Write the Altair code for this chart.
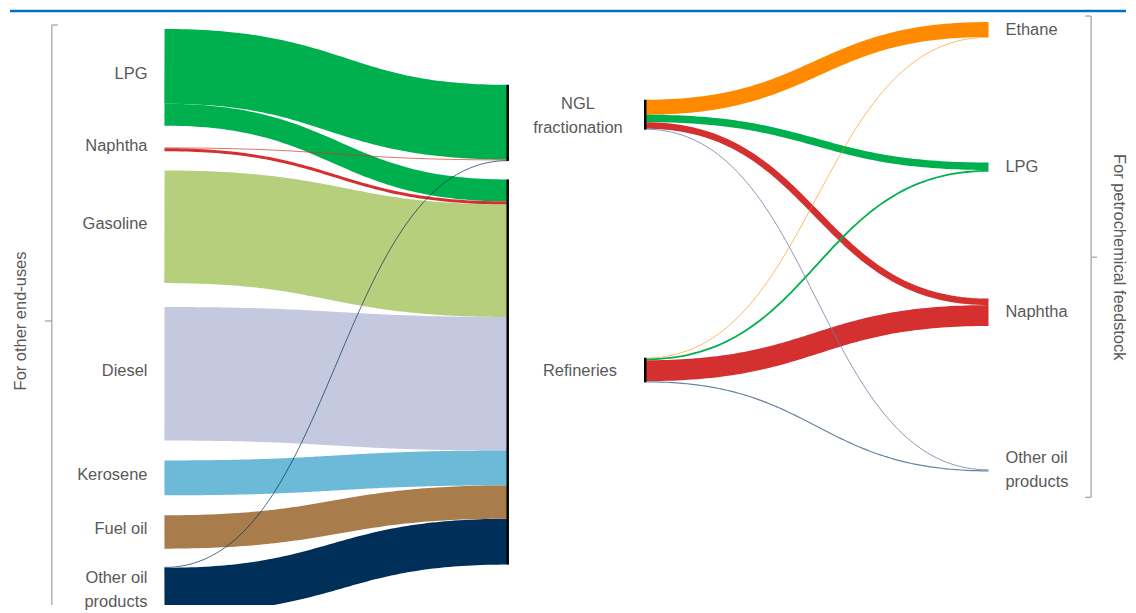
import altair as alt
import pandas as pd
import numpy as np

# ---------------- data (relative flow sizes) ----------------
left_products = ["LPG", "Naphtha", "Gasoline", "Diesel", "Kerosene", "Fuel oil", "Other oil products"]
left_labels = ["LPG", "Naphtha", "Gasoline", "Diesel", "Kerosene", "Fuel oil", "Other oil\nproducts"]
left_to_ngl = [75, 0.7, 0, 0, 0, 0, 0.7]
left_to_refineries = [22, 3, 113, 134, 35, 33.5, 46]

processes = ["NGL fractionation", "Refineries"]
process_labels = ["NGL\nfractionation", "Refineries"]

right_products = ["Ethane", "LPG", "Naphtha", "Other oil products"]
right_labels = ["Ethane", "LPG", "Naphtha", "Other oil\nproducts"]
ngl_to_right = [15, 7.5, 6.6, 0.8]
refineries_to_right = [0.6, 1.8, 21, 1.2]

# ---------------- layout (positions in page pixels) ----------------
X_L0, X_L1 = 163, 508      # left panel: end-use products -> processes
X_R0, X_R1 = 645, 990      # right panel: processes -> feedstocks
left_src_top = dict(zip(left_products, [27, 146, 169, 306, 460, 515, 567]))
left_tgt_top = {"NGL fractionation": 83, "Refineries": 178}
right_src_top = {"NGL fractionation": 98, "Refineries": 357}
right_tgt_top = dict(zip(right_products, [20, 161, 297.5, 469]))

left_colors = {"LPG": "#00B04F", "Naphtha": "#D3302F", "Gasoline": "#B6CF7D",
               "Diesel": "#C4C9E0", "Kerosene": "#6CB9D8", "Fuel oil": "#A87C4B",
               "Other oil products": "#00305A"}
right_colors = {"Ethane": "#FF8A00", "LPG": "#00B04F", "Naphtha": "#D3302F",
                "Other oil products": "#6A83A3"}

TEXT = "#595959"
FONT = "Liberation Sans, Arial"
FS = 16.5
LH = 24

# ---------------- build links ----------------
links = []
s_off = dict(left_src_top)
t_off = dict(left_tgt_top)
for p, a, b in zip(left_products, left_to_ngl, left_to_refineries):
    for proc, v in zip(processes, (a, b)):
        if v > 0:
            links.append(dict(x0=X_L0, x1=X_L1, sy=s_off[p], ty=t_off[proc], v=v,
                              color=left_colors[p]))
            s_off[p] += v
            t_off[proc] += v
left_tgt_bottom = t_off

s_off = dict(right_src_top)
t_off = dict(right_tgt_top)
for proc, vals in zip(processes, (ngl_to_right, refineries_to_right)):
    for p, v in zip(right_products, vals):
        if v > 0:
            links.append(dict(x0=X_R0, x1=X_R1, sy=s_off[proc], ty=t_off[p], v=v,
                              color=right_colors[p]))
            s_off[proc] += v
            t_off[p] += v
right_src_bottom = s_off
right_tgt_bottom = t_off

t = np.linspace(0, 1, 90)
xs = alt.Scale(domain=[8, 1128], nice=False, zero=False)
ys = alt.Scale(domain=[8, 605], reverse=True, nice=False, zero=False)
ws = alt.Scale(domain=[0, 400], range=[0, 400], zero=True)

layers = []
for i, L in enumerate(sorted(links, key=lambda d: -d["v"])):
    xn = 1.5 * t * (1 - t) + t ** 3
    yn = 3 * t ** 2 - 2 * t ** 3
    y0 = L["sy"] + L["v"] / 2
    y1 = L["ty"] + L["v"] / 2
    df = pd.DataFrame({"x": L["x0"] + (L["x1"] - L["x0"]) * xn,
                       "y": y0 + (y1 - y0) * yn,
                       "w": L["v"], "o": np.arange(len(t))})
    layers.append(
        alt.Chart(df).mark_line(color=L["color"], strokeCap="butt", clip=True).encode(
            x=alt.X("x:Q", scale=xs, axis=None),
            y=alt.Y("y:Q", scale=ys, axis=None),
            order="o:Q",
            strokeWidth=alt.StrokeWidth("w:Q", scale=ws, legend=None),
        )
    )

# node bars
nodes = pd.DataFrame({
    "x": [X_L1 - 0.5, X_L1 - 0.5, X_R0 + 0.5, X_R0 + 0.5],
    "y": [left_tgt_top[p] for p in processes] + [right_src_top[p] for p in processes],
    "y2": [left_tgt_bottom[p] for p in processes] + [right_src_bottom[p] for p in processes],
})
layers.append(alt.Chart(nodes).mark_rule(color="black", strokeWidth=2.5).encode(
    x=alt.X("x:Q", scale=xs, axis=None), y=alt.Y("y:Q", scale=ys, axis=None), y2="y2:Q"))


def block_y(center, text):
    # Vega places the first line at y: shift multi-line blocks so they are centred
    return center - (text.count("\n")) * LH / 2


# labels
lab_left = pd.DataFrame({
    "x": [146] * len(left_products),
    "y": [block_y(left_src_top[p] + (a + b) / 2 - (0 if "\n" in lb else 3), lb)
          for p, a, b, lb in zip(left_products, left_to_ngl, left_to_refineries, left_labels)],
    "t": left_labels,
})
lab_right = pd.DataFrame({
    "x": [1007] * len(right_products),
    "y": [block_y((right_tgt_top[p] + right_tgt_bottom[p]) / 2, lb)
          for p, lb in zip(right_products, right_labels)],
    "t": right_labels,
})
lab_mid = pd.DataFrame({
    "x": [578, 580],
    "y": [block_y((right_src_top[p] + right_src_bottom[p]) / 2 + 1, lb)
          for p, lb in zip(processes, process_labels)],
    "t": process_labels,
})
for df, al in ((lab_left, "right"), (lab_right, "left"), (lab_mid, "center")):
    layers.append(alt.Chart(df).mark_text(align=al, baseline="middle", font=FONT, fontSize=FS,
                                          color=TEXT, lineBreak="\n", lineHeight=LH).encode(
        x=alt.X("x:Q", scale=xs, axis=None), y=alt.Y("y:Q", scale=ys, axis=None), text="t:N"))

# brackets
brk = pd.DataFrame({
    "x":  [50, 50, 43, 1093, 1087, 1087, 1093],
    "x2": [50, 56, 50, 1093, 1093, 1093, 1099],
    "y":  [23, 23, 320, 14, 14, 497, 256],
    "y2": [620, 23, 320, 497, 14, 497, 256],
})
layers.append(alt.Chart(brk).mark_rule(color="#A6A6A6", strokeWidth=1.3, clip=True).encode(
    x=alt.X("x:Q", scale=xs, axis=None), x2="x2:Q",
    y=alt.Y("y:Q", scale=ys, axis=None), y2="y2:Q"))

titles = pd.DataFrame({"x": [19], "y": [320], "t": ["For other end-uses"]})
layers.append(alt.Chart(titles).mark_text(angle=270, align="center", baseline="middle", font=FONT,
                                          fontSize=FS, color=TEXT).encode(
    x=alt.X("x:Q", scale=xs, axis=None), y=alt.Y("y:Q", scale=ys, axis=None), text="t:N"))
titles2 = pd.DataFrame({"x": [1121], "y": [256], "t": ["For petrochemical feedstock"]})
layers.append(alt.Chart(titles2).mark_text(angle=90, align="center", baseline="middle", font=FONT,
                                           fontSize=FS, color=TEXT).encode(
    x=alt.X("x:Q", scale=xs, axis=None), y=alt.Y("y:Q", scale=ys, axis=None), text="t:N"))

# top frame line
top = pd.DataFrame({"x": [8], "x2": [1128], "y": [9]})
layers.append(alt.Chart(top).mark_rule(color="#0070C0", strokeWidth=2.5).encode(
    x=alt.X("x:Q", scale=xs, axis=None), x2="x2:Q", y=alt.Y("y:Q", scale=ys, axis=None)))

chart = alt.layer(*layers).properties(width=1120, height=597, padding=0,
                                      background="white").configure_view(stroke=None)
chart.save("out.html", embed_options={"renderer": "svg", "actions": False})
